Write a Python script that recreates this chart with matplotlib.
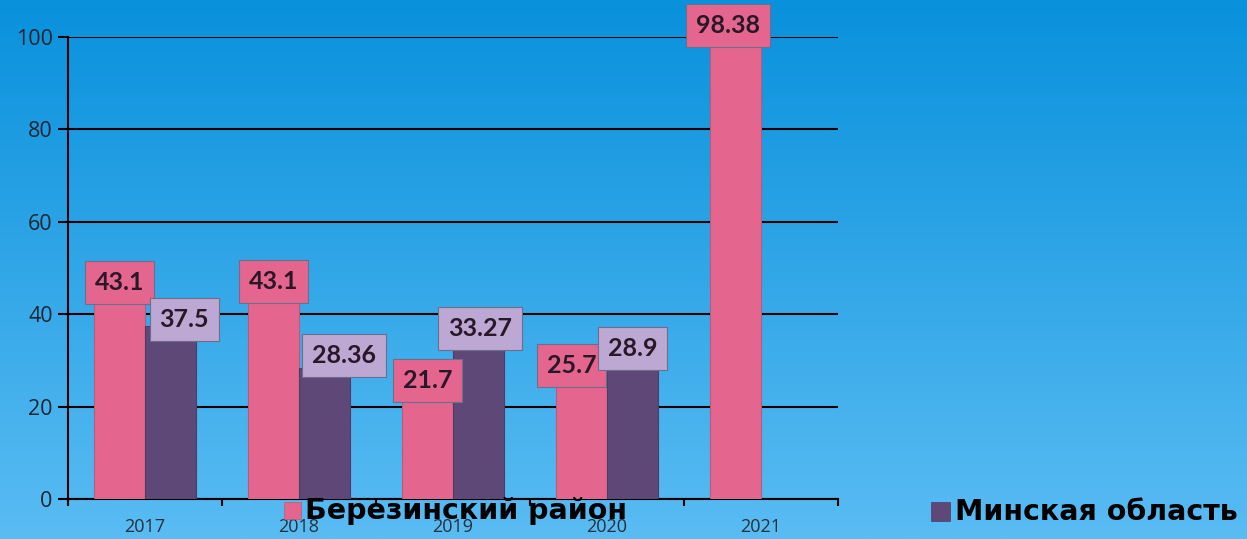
import numpy as np
import matplotlib
matplotlib.use('Agg')
import matplotlib.pyplot as plt
from matplotlib.patches import Rectangle

# Данные
years = ['2017', '2018', '2019', '2020', '2021']
berezino = [43.1, 43.1, 21.7, 25.7, 98.38]
minsk = [37.5, 28.36, 33.27, 28.9, np.nan]
berezino_labels = ['43.1', '43.1', '21.7', '25.7', '98.38']
minsk_labels = ['37.5', '28.36', '33.27', '28.9', '']
series_names = ['Березинский район', 'Минская область']

pink = '#E4668F'
purple = '#5E4877'
pink_box = '#E4668F'
purple_box = '#BDA7D3'

W, H = 1247, 539
fig = plt.figure(figsize=(W / 100, H / 100), dpi=100)

# Градиентный фон
bg = fig.add_axes([0, 0, 1, 1], zorder=-10)
top = np.array([0x09, 0x91, 0xDC]) / 255
bottom = np.array([0x5A, 0xBC, 0xF3]) / 255
t = np.linspace(0, 1, 256)[:, None]
grad = top[None, :] * (1 - t) + bottom[None, :] * t
bg.imshow(grad[:, None, :].repeat(2, axis=1), aspect='auto', extent=[0, 1, 0, 1])
bg.axis('off')

ax = fig.add_axes([68 / W, (H - 499) / H, (838 - 68) / W, (499 - 37) / H])
ax.patch.set_alpha(0)

x = np.arange(len(years))
w = 0.33
bars1 = ax.bar(x - w / 2, berezino, w, color=pink, edgecolor='#B85A7A', linewidth=0.8, zorder=3)
bars2 = ax.bar(x + w / 2, minsk, w, color=purple, edgecolor='#4E3C63', linewidth=0.8, zorder=3)

ax.set_xlim(-0.5, 4.5)
ax.set_ylim(0, 100)
ax.set_yticks([0, 20, 40, 60, 80, 100])
ax.set_xticks(x)
ax.set_xticklabels(years)
ax.set_xticks(np.arange(-0.5, 5, 1), minor=True)
ax.yaxis.grid(True, color='black', linewidth=1.5, zorder=0)
ax.set_axisbelow(True)

for s in ['top', 'right']:
    ax.spines[s].set_visible(False)
ax.spines['left'].set_linewidth(1.5)
ax.spines['bottom'].set_linewidth(1.5)
ax.tick_params(axis='y', length=7, width=1.5, labelsize=15.5, labelcolor='#1C2530',
               pad=4)
ax.tick_params(axis='x', which='major', length=0, labelsize=13, labelcolor='#26303A',
               pad=14)
ax.tick_params(axis='x', which='minor', length=5, width=1.5)
for lbl in ax.get_yticklabels() + ax.get_xticklabels():
    lbl.set_fontfamily('Open Sans')
ax.plot([0, 0], [0, -0.014], transform=ax.transAxes, color='black', lw=1.5, clip_on=False)

# Подписи значений (смещения в пикселях)
off1 = [(0, 17), (0, 18), (0, 18), (-10, 15), (-8, 19)]
off2 = [(14, 6), (20, 12), (2, 17), (0, 17), (0, 0)]


def label(bar, text, off, fc):
    if not text:
        return
    ax.annotate(text, (bar.get_x() + bar.get_width() / 2, bar.get_height()),
                xytext=(off[0] * 0.72, off[1] * 0.72), textcoords='offset points',
                ha='center', va='center', fontsize=18, fontweight='bold',
                fontfamily='Lato', color='#2A1828', zorder=5, annotation_clip=False,
                bbox=dict(boxstyle='square,pad=0.4', fc=fc, ec='#6E6E8A', lw=0.8))


for b, t_, o in zip(bars1, berezino_labels, off1):
    label(b, t_, o, pink_box)
for b, t_, o in zip(bars2, minsk_labels, off2):
    label(b, t_, o, purple_box)

# Легенда
fig.patches.append(Rectangle((284 / W, (H - 519) / H), 17 / W, 17 / H, transform=fig.transFigure,
                             fc=pink, ec='#B85A7A', lw=0.5, zorder=6))
fig.text(305 / W, (H - 511) / H, series_names[0], fontsize=20.5, fontweight='bold',
         va='center', ha='left', color='black', zorder=7)
fig.patches.append(Rectangle((931 / W, (H - 521) / H), 19 / W, 19 / H, transform=fig.transFigure,
                             fc=purple, ec='#4E3C63', lw=0.5, zorder=6))
fig.text(955 / W, (H - 512) / H, series_names[1], fontsize=20.5, fontweight='bold',
         va='center', ha='left', color='black', zorder=7)

fig.savefig('out.png', dpi=100)
